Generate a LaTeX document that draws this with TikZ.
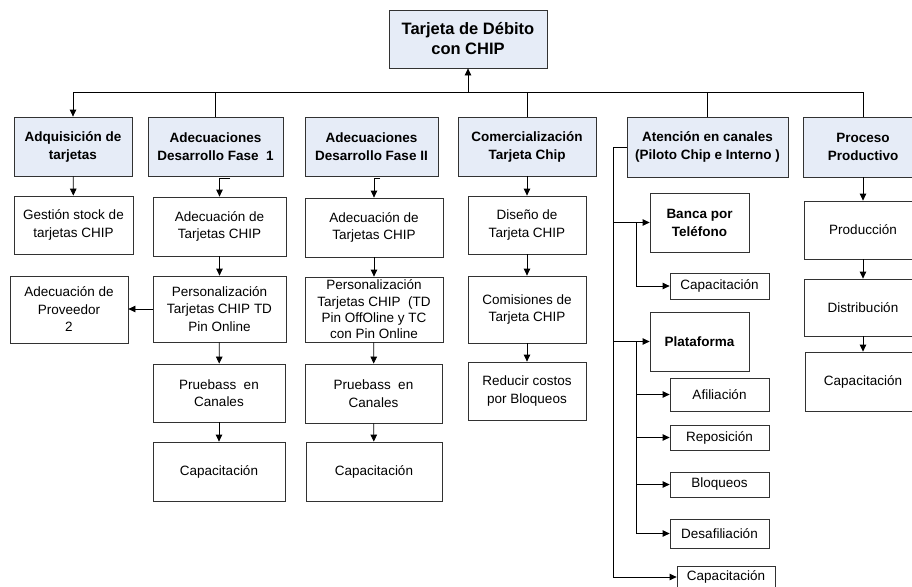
\documentclass[tikz,border=0pt]{standalone}
\usepackage{fontspec}
\setmainfont{Liberation Sans}
\usetikzlibrary{arrows.meta}
\definecolor{hdrblue}{RGB}{230,236,247}
\definecolor{edge}{RGB}{50,50,50}
\tikzset{
  box/.style={draw=edge, line width=0.8pt, align=center, inner sep=0pt, fill=white,
    font=\fontsize{13.5}{17.5}\selectfont},
  hdr/.style={box, fill=hdrblue, font=\fontsize{13.5}{18}\selectfont\bfseries},
  bbox/.style={box, font=\fontsize{13.5}{18}\selectfont\bfseries},
  roothdr/.style={box, fill=hdrblue, font=\fontsize{16.5}{20}\selectfont\bfseries},
  link/.style={draw=black, line width=0.8pt},
  arr/.style={link, -{Triangle[length=7pt,width=6.5pt]}}
}
\newcommand{\bx}[7]{%
  \pgfmathsetmacro{\bw}{#4-#2}\pgfmathsetmacro{\bh}{#5-#3}%
  \pgfmathsetmacro{\bcx}{(#2+#4)/2}\pgfmathsetmacro{\bcy}{(#3+#5)/2}%
  \node[#6, minimum width=\bw pt, minimum height=\bh pt] (#1) at (\bcx,\bcy) {#7};}
\begin{document}
\begin{tikzpicture}[x=1pt,y=-1pt]
\useasboundingbox (0,0) rectangle (912,586);
\clip (0,0) rectangle (912,586);
\fill[white] (0,0) rectangle (912,586);
% headers
\bx{root}{389}{10}{547}{68}{roothdr}{Tarjeta de Débito\\con CHIP}
\bx{adq}{14}{117}{132}{176}{hdr}{Adquisición de\\tarjetas}
\bx{f1}{148}{117}{283}{176}{hdr}{Adecuaciones\\Desarrollo Fase~ 1}
\bx{f2}{305}{117}{438}{176}{hdr}{Adecuaciones\\Desarrollo Fase II}
\bx{com}{458}{117}{596}{176}{hdr}{Comercialización\\Tarjeta Chip}
\bx{ate}{627}{117}{788}{177}{hdr}{Atención en canales\\(Piloto Chip e Interno )}
\bx{pro}{803}{117}{923}{177}{hdr}{Proceso\\Productivo}
% column 1
\bx{ges}{14}{196}{133}{254}{box}{Gestión stock de\\tarjetas CHIP}
\bx{prov}{10}{276}{128}{343}{box}{Adecuación de\\Proveedor\\2}
% fase 1
\bx{f1a}{153}{197}{286}{256}{box}{Adecuación de\\Tarjetas CHIP}
\bx{f1p}{153}{276}{286}{342}{box}{Personalización\\Tarjetas CHIP TD\\Pin Online}
\bx{f1t}{153}{364}{285}{422}{box}{Pruebass~ en\\Canales}
\bx{f1c}{153}{442}{285}{501}{box}{Capacitación}
% fase 2
\bx{f2a}{305}{198}{443}{257}{box}{Adecuación de\\Tarjetas CHIP}
\bx{f2p}{305}{277}{443}{342}{box, font=\fontsize{13.5}{16.3}\selectfont}{Personalización\\Tarjetas CHIP~ (TD\\Pin OffOline y TC\\con Pin Online}
\bx{f2t}{305}{364}{442}{423}{box}{Pruebass~ en\\Canales}
\bx{f2c}{306}{442}{442}{501}{box}{Capacitación}
% comercializacion
\bx{dis}{468}{196}{586}{254}{box}{Diseño de\\Tarjeta CHIP}
\bx{comi}{468}{276}{586}{343}{box}{Comisiones de\\Tarjeta CHIP}
\bx{red}{468}{362}{586}{420}{box}{Reducir costos\\por Bloqueos}
% atencion
\bx{banca}{650}{193}{749}{252}{bbox}{Banca por\\Teléfono}
\bx{cap1}{670}{273}{769}{299}{box}{Capacitación}
\bx{plat}{650}{312}{749}{371}{bbox}{Plataforma}
\bx{afi}{670}{378}{769}{411}{box}{Afiliación}
\bx{repo}{670}{425}{769}{450}{box}{Reposición}
\bx{bloq}{670}{472}{769}{497}{box}{Bloqueos}
\bx{desa}{670}{519}{769}{548}{box}{Desafiliación}
\bx{capB}{677}{566}{775}{587}{box}{Capacitación}
% proceso
\bx{prod}{804}{201}{922}{259}{box}{Producción}
\bx{distr}{804}{279}{922}{336}{box}{Distribución}
\bx{capP}{805}{352}{921}{411}{box}{Capacitación}
% bus
\coordinate (busL) at (73,92);
\coordinate (busR) at (863,92);
\draw[link] (busL) -- (busR);
\draw[arr] (root.south |- busL) -- (root.south);
\draw[arr] (busL) -- (adq.north);
\draw[link] (f1.north |- busL) -- (f1.north);
\draw[link] (com.north |- busL) -- (com.north);
\draw[link] (ate.north |- busL) -- (ate.north);
\draw[link] (busR) -- (busR |- pro.north);
% column 1
\draw[arr] (adq) -- (ges);
\draw[arr] (f1p.west) -- (f1p.west -| prov.east);
% fase 1
\coordinate (f1e) at (230,178);
\draw[arr] (f1e) -| (f1a.north);
\draw[arr] (f1a) -- (f1p);
\draw[arr] (f1p) -- (f1t);
\draw[arr] (f1t) -- (f1c);
% fase 2
\coordinate (f2e) at (380,178);
\draw[arr] (f2e) -| (f2a.north);
\draw[arr] (f2a) -- (f2p);
\draw[arr] (f2p) -- (f2t);
\draw[arr] (f2t) -- (f2c);
% comercializacion
\draw[arr] (com) -- (dis);
\draw[arr] (dis) -- (comi);
\draw[arr] (comi) -- (red);
% atencion
\coordinate (aTop) at (613,147);
\coordinate (aBot) at (613,577);
\draw[link] (ate.west) -- (aTop) -- (aBot);
\draw[arr] (aTop |- banca.west) -- (banca.west);
\draw[arr] (aTop |- plat.west) -- (plat.west);
\draw[arr] (aBot) -- (aBot -| capB.west);
\coordinate (bJ) at (636,222.5);
\draw[arr] (bJ) |- (cap1.west);
\coordinate (pJ) at (636,341.5);
\draw[link] (pJ) -- (pJ |- desa.west);
\draw[arr] (pJ |- afi.west) -- (afi.west);
\draw[arr] (pJ |- repo.west) -- (repo.west);
\draw[arr] (pJ |- bloq.west) -- (bloq.west);
\draw[arr] (pJ |- desa.west) -- (desa.west);
% proceso
\draw[arr] (busR |- pro.south) -- (busR |- prod.north);
\draw[arr] (busR |- prod.south) -- (busR |- distr.north);
\draw[arr] (busR |- distr.south) -- (busR |- capP.north);
\end{tikzpicture}
\end{document}
